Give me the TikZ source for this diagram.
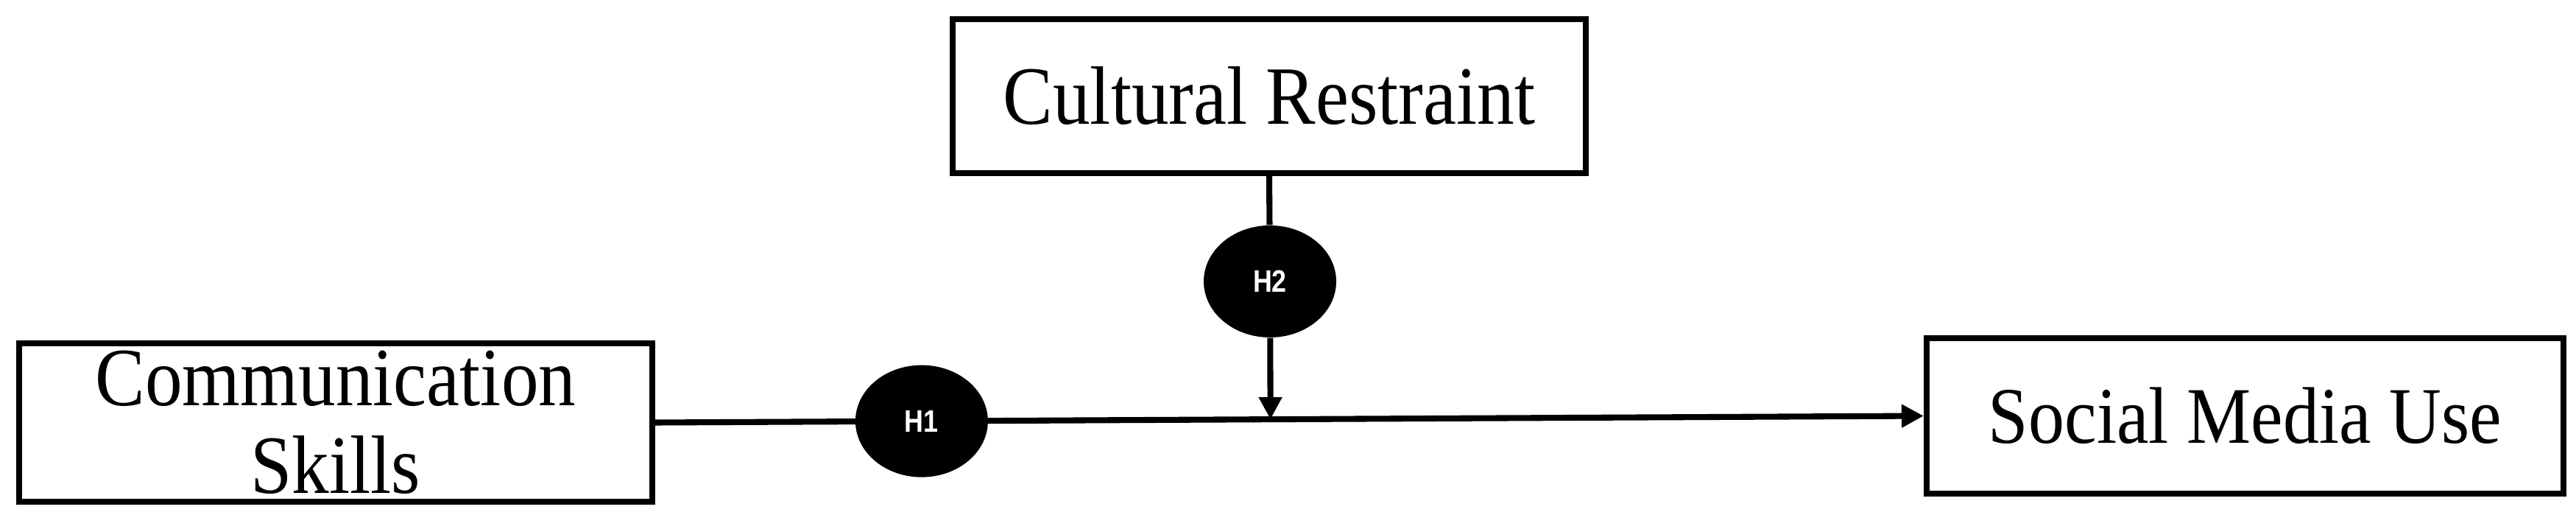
\documentclass[tikz,border=0pt]{standalone}
\usepackage{fontspec}
\setmainfont{Liberation Serif}[FakeStretch=0.9]
\newfontfamily\hypfont{Liberation Sans}[FakeStretch=0.85]
\usetikzlibrary{positioning, arrows.meta, calc, shapes.geometric}

\begin{document}
\begin{tikzpicture}[construct/.style={draw, line width=2.3pt, minimum width=8.6cm, align=center, inner sep=0pt, font=\fontsize{32}{34}\selectfont},hyp/.style={ellipse, fill=black, minimum width=1.8cm, minimum height=1.52cm, inner sep=0pt, text=white, font=\hypfont\bfseries\fontsize{12}{14}\selectfont},link/.style={line width=2.3pt, -{Triangle[length=0.3cm, width=0.3cm]}}]
\useasboundingbox (0,0) rectangle (34.99,6.98);
\node[construct, minimum height=2.09cm] (cult) at (17.24,5.675) {Cultural Restraint};
\node[construct, minimum height=2.15cm] (comm) at (4.56,1.245) {Communication\\Skills};
\node[construct, minimum width=8.65cm, minimum height=2.11cm, font=\fontsize{31}{34}\selectfont] (smu) at (30.495,1.335) {Social Media Use};
\node[hyp] (h2) at (17.25,3.16) {H2};
% main path, H1 sits on it
\draw[link] (comm.east) -- node[hyp, pos=0.21] (h1) {H1} (smu.west);
% moderator arrow down onto the main path
\coordinate (join) at ($(comm.east)!(cult.south)!(smu.west)$);
\draw[line width=2.3pt] (cult.south) -- (h2);
\draw[link] (h2) -- (join);
\end{tikzpicture}
\end{document}
